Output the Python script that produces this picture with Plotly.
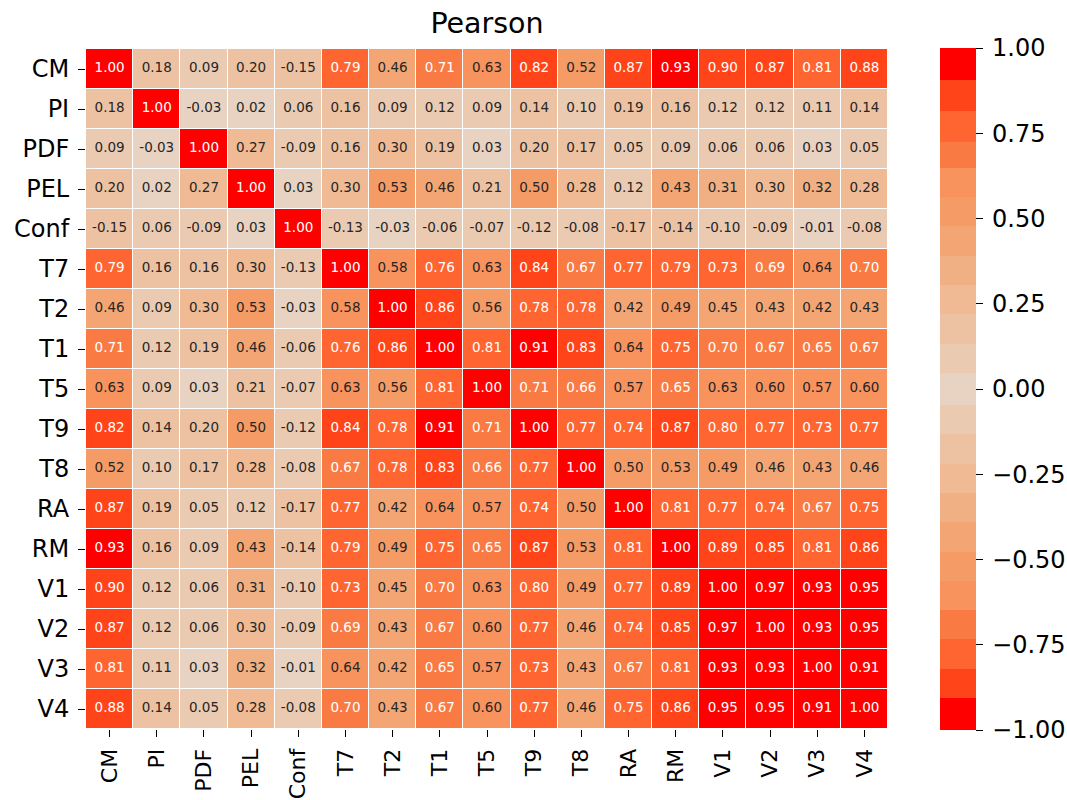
import plotly.graph_objects as go

# Variable names (rows and columns share the same order)
labels = ["CM", "PI", "PDF", "PEL", "Conf", "T7", "T2", "T1", "T5", "T9",
          "T8", "RA", "RM", "V1", "V2", "V3", "V4"]

# Pearson correlation matrix, one list per row
r_CM   = [1.00, 0.18, 0.09, 0.20, -0.15, 0.79, 0.46, 0.71, 0.63, 0.82, 0.52, 0.87, 0.93, 0.90, 0.87, 0.81, 0.88]
r_PI   = [0.18, 1.00, -0.03, 0.02, 0.06, 0.16, 0.09, 0.12, 0.09, 0.14, 0.10, 0.19, 0.16, 0.12, 0.12, 0.11, 0.14]
r_PDF  = [0.09, -0.03, 1.00, 0.27, -0.09, 0.16, 0.30, 0.19, 0.03, 0.20, 0.17, 0.05, 0.09, 0.06, 0.06, 0.03, 0.05]
r_PEL  = [0.20, 0.02, 0.27, 1.00, 0.03, 0.30, 0.53, 0.46, 0.21, 0.50, 0.28, 0.12, 0.43, 0.31, 0.30, 0.32, 0.28]
r_Conf = [-0.15, 0.06, -0.09, 0.03, 1.00, -0.13, -0.03, -0.06, -0.07, -0.12, -0.08, -0.17, -0.14, -0.10, -0.09, -0.01, -0.08]
r_T7   = [0.79, 0.16, 0.16, 0.30, -0.13, 1.00, 0.58, 0.76, 0.63, 0.84, 0.67, 0.77, 0.79, 0.73, 0.69, 0.64, 0.70]
r_T2   = [0.46, 0.09, 0.30, 0.53, -0.03, 0.58, 1.00, 0.86, 0.56, 0.78, 0.78, 0.42, 0.49, 0.45, 0.43, 0.42, 0.43]
r_T1   = [0.71, 0.12, 0.19, 0.46, -0.06, 0.76, 0.86, 1.00, 0.81, 0.91, 0.83, 0.64, 0.75, 0.70, 0.67, 0.65, 0.67]
r_T5   = [0.63, 0.09, 0.03, 0.21, -0.07, 0.63, 0.56, 0.81, 1.00, 0.71, 0.66, 0.57, 0.65, 0.63, 0.60, 0.57, 0.60]
r_T9   = [0.82, 0.14, 0.20, 0.50, -0.12, 0.84, 0.78, 0.91, 0.71, 1.00, 0.77, 0.74, 0.87, 0.80, 0.77, 0.73, 0.77]
r_T8   = [0.52, 0.10, 0.17, 0.28, -0.08, 0.67, 0.78, 0.83, 0.66, 0.77, 1.00, 0.50, 0.53, 0.49, 0.46, 0.43, 0.46]
r_RA   = [0.87, 0.19, 0.05, 0.12, -0.17, 0.77, 0.42, 0.64, 0.57, 0.74, 0.50, 1.00, 0.81, 0.77, 0.74, 0.67, 0.75]
r_RM   = [0.93, 0.16, 0.09, 0.43, -0.14, 0.79, 0.49, 0.75, 0.65, 0.87, 0.53, 0.81, 1.00, 0.89, 0.85, 0.81, 0.86]
r_V1   = [0.90, 0.12, 0.06, 0.31, -0.10, 0.73, 0.45, 0.70, 0.63, 0.80, 0.49, 0.77, 0.89, 1.00, 0.97, 0.93, 0.95]
r_V2   = [0.87, 0.12, 0.06, 0.30, -0.09, 0.69, 0.43, 0.67, 0.60, 0.77, 0.46, 0.74, 0.85, 0.97, 1.00, 0.93, 0.95]
r_V3   = [0.81, 0.11, 0.03, 0.32, -0.01, 0.64, 0.42, 0.65, 0.57, 0.73, 0.43, 0.67, 0.81, 0.93, 0.93, 1.00, 0.91]
r_V4   = [0.88, 0.14, 0.05, 0.28, -0.08, 0.70, 0.43, 0.67, 0.60, 0.77, 0.46, 0.75, 0.86, 0.95, 0.95, 0.91, 1.00]

corr = [r_CM, r_PI, r_PDF, r_PEL, r_Conf, r_T7, r_T2, r_T1, r_T5, r_T9,
        r_T8, r_RA, r_RM, r_V1, r_V2, r_V3, r_V4]

# Colorbar ticks
cbar_vals = [-1.0, -0.75, -0.5, -0.25, 0.0, 0.25, 0.5, 0.75, 1.0]
cbar_text = ["\u22121.00", "\u22120.75", "\u22120.50", "\u22120.25", "0.00",
             "0.25", "0.50", "0.75", "1.00"]

# ---- styling: stepped, symmetric red palette (centre band first, then outwards)
half = ["#E8D2C2", "#EBCAB2", "#EDC2A3", "#EFBA94", "#F1B084", "#F3A674",
        "#F59B66", "#F8935E", "#FA7A43", "#FE6531", "#FF4419", "#FF0000"]
band_colors = half[:0:-1] + half          # 23 colours from -1 to +1
band_edges = [-0.906, -0.820, -0.734, -0.648, -0.5625, -0.477, -0.391, -0.305,
              -0.219, -0.133, -0.047, 0.047, 0.133, 0.219, 0.305, 0.391, 0.477,
              0.5625, 0.648, 0.725, 0.815, 0.906]
ZMIN, ZMAX = -1.0, 1.0

lo_edges = [ZMIN] + band_edges
hi_edges = band_edges + [ZMAX]
colorscale = []
for c, lo, hi in zip(band_colors, lo_edges, hi_edges):
    colorscale.append([(lo - ZMIN) / (ZMAX - ZMIN), c])
    colorscale.append([(hi - ZMIN) / (ZMAX - ZMIN), c])


def band_color(v):
    for c, hi in zip(band_colors, hi_edges):
        if v < hi:
            return c
    return band_colors[-1]


def luminance(hex_color):
    rgb = [int(hex_color[i:i + 2], 16) / 255 for i in (1, 3, 5)]
    lin = [x / 12.92 if x <= 0.03928 else ((x + 0.055) / 1.055) ** 2.4 for x in rgb]
    return 0.2126 * lin[0] + 0.7152 * lin[1] + 0.0722 * lin[2]


# Cell labels with contrast-dependent text colour
tx, ty, tt, tc = [], [], [], []
for i, row in enumerate(corr):
    for j, v in enumerate(row):
        tx.append(labels[j])
        ty.append(labels[i])
        tt.append(f"{v:.2f}")
        tc.append("#262626" if luminance(band_color(v)) > 0.408 else "#FFFFFF")

FONT = "DejaVu Sans"
TICK_SIZE = 24
XTICK_SIZE = 22

fig = go.Figure()
fig.add_trace(go.Heatmap(
    z=corr, x=labels, y=labels,
    zmin=ZMIN, zmax=ZMAX,
    colorscale=colorscale,
    xgap=1, ygap=1,
    hoverinfo="skip",
    colorbar=dict(
        x=1.0648, xanchor="left", xref="paper",
        y=0.5, yanchor="middle", len=1.003, lenmode="fraction",
        thickness=36, outlinewidth=0,
        tickmode="array", tickvals=cbar_vals,
        ticktext=["\u2009" + t for t in cbar_text],
        ticks="outside", ticklen=7, tickwidth=1.2, tickcolor="black",
        tickfont=dict(family=FONT, size=TICK_SIZE, color="black"),
        ypad=0, xpad=0,
    ),
))
fig.add_trace(go.Scatter(
    x=tx, y=ty, text=tt, mode="text",
    textposition="middle center",
    textfont=dict(family=FONT, size=13.5, color=tc),
    hoverinfo="skip", showlegend=False,
))

fig.update_layout(
    width=1067, height=800,
    margin=dict(l=86, r=179, t=49, b=71, autoexpand=False),
    paper_bgcolor="white", plot_bgcolor="white",
    title=dict(text="Pearson", x=0.5, xref="paper", xanchor="center",
               y=1 - 23 / 800, yref="container", yanchor="middle",
               font=dict(family=FONT, size=28.5, color="black")),
    font=dict(family=FONT, color="black"),
)
fig.update_xaxes(
    type="category", range=[-0.5, len(labels) - 0.5], automargin=False,
    showgrid=False, zeroline=False, showline=False,
    ticks="outside", ticklen=7, tickwidth=1.2, tickcolor="black",
    tickangle=-90, tickfont=dict(family=FONT, size=XTICK_SIZE, color="black"),
    ticklabelstandoff=3,
)
fig.update_yaxes(
    type="category", range=[len(labels) - 0.5, -0.5], automargin=False,
    showgrid=False, zeroline=False, showline=False,
    ticks="outside", ticklen=7, tickwidth=1.2, tickcolor="black",
    tickfont=dict(family=FONT, size=TICK_SIZE, color="black"),
    ticklabelstandoff=4,
)

fig.write_html("out.html")
